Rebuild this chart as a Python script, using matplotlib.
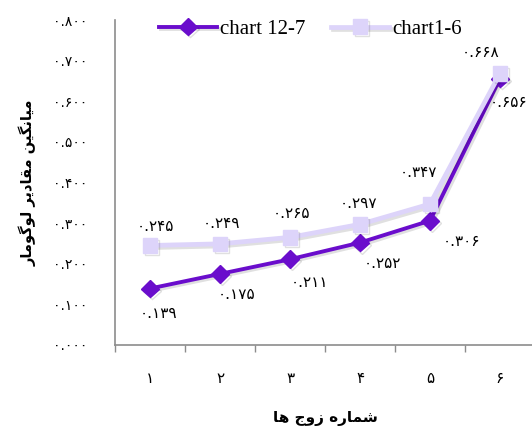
import matplotlib
matplotlib.use("Agg")
import matplotlib.pyplot as plt
import matplotlib.patheffects as pe

# data
pairs = [1, 2, 3, 4, 5, 6]
chart_12_7 = [0.139, 0.175, 0.211, 0.252, 0.306, 0.656]
chart_1_6 = [0.245, 0.249, 0.265, 0.297, 0.347, 0.668]
y_ticks = [0.0, 0.1, 0.2, 0.3, 0.4, 0.5, 0.6, 0.7, 0.8]

FA_DIGITS = str.maketrans("0123456789", "\u06f0\u06f1\u06f2\u06f3\u06f4\u06f5\u06f6\u06f7\u06f8\u06f9")


def fa(s):
    return s.translate(FA_DIGITS)


def shaped(codes):
    # matplotlib has no arabic shaping, so glyphs are given in presentation
    # forms (logical order) and reversed to get the visual order
    return "".join(chr(c) for c in reversed(codes))


# میانگین مقادیر لوگومار
Y_LABEL = shaped([0xFEE3, 0xFBFF, 0xFE8E, 0xFEE7, 0xFB95, 0xFBFF, 0xFEE6, 0x20,
                  0xFEE3, 0xFED8, 0xFE8E, 0xFEA9, 0xFBFE, 0xFEAE, 0x20,
                  0xFEDF, 0xFEEE, 0xFB94, 0xFEEE, 0xFEE3, 0xFE8E, 0xFEAD])
# شماره زوج ها
X_LABEL = shaped([0xFEB7, 0xFEE4, 0xFE8E, 0xFEAD, 0xFEE9, 0x20,
                  0xFEAF, 0xFEED, 0xFE9D, 0x20,
                  0xFEEB, 0xFE8E])

# label offsets in points (dx, dy)
off_12_7 = [(6, -18), (12, -15), (14, -17), (16, -15), (23, -15), (6, -17)]
off_1_6 = [(4, 14), (1, 15), (1, 17), (-1, 15), (-8, 23), (-14, 15)]


def main():
    fig = plt.figure(figsize=(5.32, 4.30), dpi=100)
    ax = fig.add_axes([115 / 532, 85 / 430, 420 / 532, 325 / 430])

    shadow = [pe.SimpleLineShadow(offset=(1.5, -1.5), alpha=0.12, shadow_color="black"), pe.Normal()]
    ax.plot(pairs, chart_12_7, color="#6a0dcc", lw=2.8, marker="D", ms=9,
            label="chart 12-7", path_effects=shadow, zorder=3)
    ax.plot(pairs, chart_1_6, color="#ddd4fa", lw=3.4, marker="s", ms=10.5,
            label="chart1-6", path_effects=shadow, zorder=4)

    for x, v, (dx, dy) in zip(pairs, chart_12_7, off_12_7):
        ax.annotate(fa("%.3f" % v), (x, v), xytext=(dx, dy), textcoords="offset points",
                    ha="center", va="center", fontsize=11, family="DejaVu Sans")
    for x, v, (dx, dy) in zip(pairs, chart_1_6, off_1_6):
        ax.annotate(fa("%.3f" % v), (x, v), xytext=(dx, dy), textcoords="offset points",
                    ha="center", va="center", fontsize=11, family="DejaVu Sans")

    ax.set_xlim(0.5, 6.5)
    ax.set_ylim(0, 0.8)
    ax.set_yticks(y_ticks)
    ax.set_yticklabels([fa("%.3f" % t) for t in y_ticks], fontsize=10)
    ax.set_xticks(pairs)
    ax.set_xticklabels([fa(str(p)) for p in pairs], fontsize=11)
    ax.set_xticks([p - 0.5 for p in pairs] + [6.5], minor=True)
    ax.tick_params(axis="x", which="major", length=0, pad=19)
    ax.tick_params(axis="x", which="minor", length=5, color="#8c8c8c", width=1)
    ax.tick_params(axis="y", length=0, pad=20)

    for side in ("top", "right"):
        ax.spines[side].set_visible(False)
    for side in ("left", "bottom"):
        ax.spines[side].set_color("#8c8c8c")
        ax.spines[side].set_linewidth(1.2)

    ax.set_xlabel(X_LABEL, fontsize=11, fontweight="bold", labelpad=18)
    ax.set_ylabel(Y_LABEL, fontsize=10.5, fontweight="bold", labelpad=12)

    ax.legend(loc="upper center", bbox_to_anchor=(0.465, 1.06), ncol=2, frameon=False,
              prop={"family": "Liberation Serif", "size": 15}, handlelength=2.8,
              columnspacing=1.2, handletextpad=0.15)

    fig.savefig("out.png", dpi=100)


if __name__ == "__main__":
    main()
